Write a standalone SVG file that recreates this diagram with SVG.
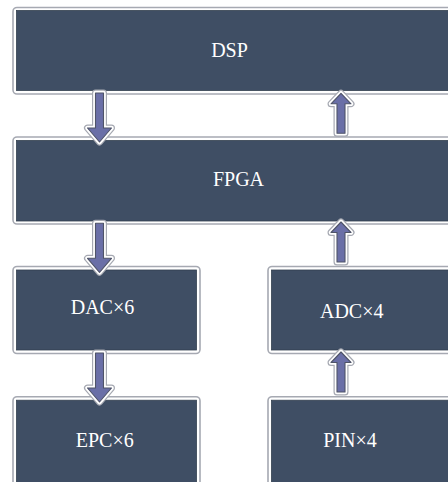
<svg xmlns="http://www.w3.org/2000/svg" width="448" height="482" viewBox="0 0 448 482">
<style>
.outer{fill:#ffffff;stroke:#a6a9b2;stroke-width:1.6}
.inner{fill:#3f4e64;stroke:#34404f;stroke-width:0.8}
text{font-family:'Liberation Serif','Times New Roman',serif;font-size:20px;fill:#ffffff;text-anchor:middle}
.a1{fill:none;stroke:#a6a9b2;stroke-width:7;stroke-linejoin:round}
.a2{fill:none;stroke:#ffffff;stroke-width:4.6;stroke-linejoin:round}
.a3{fill:#6a6fa7;stroke:#4f5468;stroke-width:1.1;stroke-linejoin:round}
</style>
<defs>
<path id="down" d="M-4,0 L4,0 L4,35 L12,35 L0,49 L-12,35 L-4,35 Z"/>
<path id="up" d="M0,0 L10,10.5 L4,10.5 L4,40 L-4,40 L-4,10.5 L-10,10.5 Z"/>
</defs>
<rect width="448" height="482" fill="#ffffff"/>
<g id="DSP">
<rect class="outer" x="13" y="7.5" width="470" height="86.5" rx="4"/>
<rect class="inner" x="16.5" y="10.5" width="470" height="80"/>
<text x="229.5" y="56.7">DSP</text>
</g>
<g id="FPGA">
<rect class="outer" x="13" y="137" width="470" height="87" rx="4"/>
<rect class="inner" x="16.5" y="140.5" width="470" height="80.5"/>
<text x="238.5" y="186">FPGA</text>
</g>
<g id="DAC">
<rect class="outer" x="13" y="266.5" width="187" height="87" rx="4"/>
<rect class="inner" x="16.5" y="270" width="180" height="80"/>
<text x="102.5" y="313.8">DAC×6</text>
</g>
<g id="ADC">
<rect class="outer" x="268" y="266.5" width="220" height="87" rx="4"/>
<rect class="inner" x="271.5" y="270" width="220" height="80"/>
<text x="351.7" y="318.3">ADC×4</text>
</g>
<g id="EPC">
<rect class="outer" x="13" y="396.7" width="187" height="100" rx="4"/>
<rect class="inner" x="16.5" y="400.2" width="180" height="100"/>
<text x="104.7" y="447.3">EPC×6</text>
</g>
<g id="PIN">
<rect class="outer" x="268" y="396.7" width="220" height="100" rx="4"/>
<rect class="inner" x="271.5" y="400.2" width="220" height="100"/>
<text x="350" y="447.3">PIN×4</text>
</g>
<g id="connectors">
<g transform="translate(99.5,93)"><use href="#down" class="a1"/><use href="#down" class="a2"/><use href="#down" class="a3"/></g>
<g transform="translate(99.5,223.3)"><use href="#down" class="a1"/><use href="#down" class="a2"/><use href="#down" class="a3"/></g>
<g transform="translate(99.5,353)"><use href="#down" class="a1"/><use href="#down" class="a2"/><use href="#down" class="a3"/></g>
<g transform="translate(341,93.3)"><use href="#up" class="a1"/><use href="#up" class="a2"/><use href="#up" class="a3"/></g>
<g transform="translate(341,222)"><use href="#up" class="a1"/><use href="#up" class="a2"/><use href="#up" class="a3"/></g>
<g transform="translate(341,352)"><use href="#up" class="a1"/><use href="#up" class="a2"/><use href="#up" class="a3"/></g>
</g>
</svg>
